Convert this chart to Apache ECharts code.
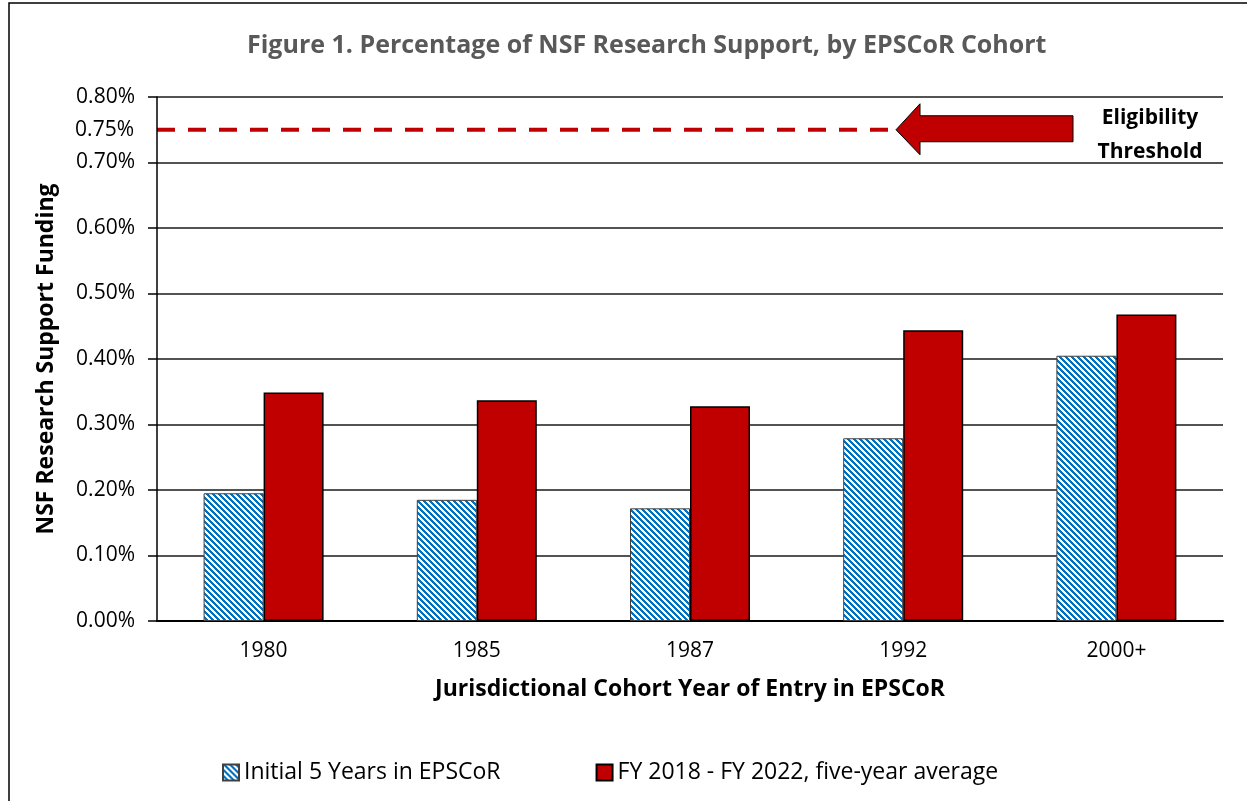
<!DOCTYPE html>
<html>
<head>
<meta charset="utf-8">
<script src="https://cdn.jsdelivr.net/npm/echarts@6/dist/echarts.min.js"></script>
<style>
    html, body { margin: 0; padding: 0; background: #fff; }
    #container { width: 1247px; height: 801px; }
</style>
</head>
<body>
<div id="container"></div>
<script type="text/javascript">
    // values in percent of NSF research support
    var cohorts = ['1980', '1985', '1987', '1992', '2000+'];
    var initialFive = [0.195, 0.185, 0.172, 0.279, 0.405];
    var recentAvg = [0.349, 0.337, 0.328, 0.444, 0.468];
    var seriesNames = ['Initial 5 Years in EPSCoR', 'FY 2018 - FY 2022, five-year average'];
    var threshold = 0.75;

    var font = '"Open Sans", sans-serif';

    // blue diagonal hatch like the excel pattern fill
    function hatch() {
        var c = document.createElement('canvas');
        c.width = 6; c.height = 6;
        var ctx = c.getContext('2d');
        ctx.fillStyle = '#fff';
        ctx.fillRect(0, 0, 6, 6);
        ctx.fillStyle = '#0070C0';
        for (var y = 0; y < 6; y++) {
            for (var x = 0; x < 6; x++) {
                if (((x - y) % 6 + 6) % 6 < 3) ctx.fillRect(x, y, 1, 1);
            }
        }
        return c;
    }

    function pct(v) { return v.toFixed(2) + '%'; }

    var dom = document.getElementById('container');
    var myChart = echarts.init(dom);

    var option = {
        animation: false,
        title: {
            text: 'Figure 1. Percentage of NSF Research Support, by EPSCoR Cohort',
            left: 242,
            top: 28,
            textStyle: { fontFamily: font, fontSize: 25, fontWeight: 'bold', color: '#595959' }
        },
        legend: {
            left: 217,
            top: 756,
            itemWidth: 16,
            itemHeight: 16,
            itemGap: 95,
            icon: 'rect',
            data: seriesNames,
            textStyle: { fontFamily: font, fontSize: 23, color: '#000' }
        },
        grid: { left: 157, right: 24, top: 97, bottom: 180 },
        xAxis: {
            type: 'category',
            data: cohorts,
            name: 'Jurisdictional Cohort Year of Entry in EPSCoR',
            nameLocation: 'middle',
            nameGap: 57,
            nameTextStyle: { fontFamily: font, fontSize: 23, fontWeight: 'bold', color: '#000' },
            axisTick: { show: false },
            axisLine: { lineStyle: { color: '#000', width: 2 } },
            axisLabel: { fontFamily: font, fontSize: 21, color: '#000', margin: 20 }
        },
        yAxis: {
            type: 'value',
            min: 0,
            max: 0.8,
            interval: 0.1,
            name: 'NSF Research Support Funding',
            nameLocation: 'middle',
            nameGap: 99,
            nameTextStyle: { fontFamily: font, fontSize: 23, fontWeight: 'bold', color: '#000' },
            axisLine: { show: true, lineStyle: { color: '#000', width: 1.5 } },
            axisTick: { show: true, length: 9, lineStyle: { color: '#000', width: 1.5 } },
            splitLine: { lineStyle: { color: '#1a1a1a', width: 1.5 } },
            axisLabel: {
                fontFamily: font, fontSize: 21, color: '#000', margin: 22,
                formatter: function (v) { return pct(v); }
            }
        },
        series: [
            {
                name: seriesNames[0],
                type: 'bar',
                barWidth: 60,
                barGap: 0,
                data: initialFive,
                itemStyle: {
                    color: { image: hatch(), repeat: 'repeat' },
                    borderColor: '#404040',
                    borderWidth: 1
                }
            },
            {
                name: seriesNames[1],
                type: 'bar',
                barWidth: 60,
                data: recentAvg,
                itemStyle: { color: '#C00000', borderColor: '#000', borderWidth: 1.5 }
            }
        ]
    };
    myChart.setOption(option, true);

    // threshold line, arrow and labels placed on the value axis scale
    var ty = myChart.convertToPixel({ yAxisIndex: 0 }, threshold);
    var x0 = myChart.convertToPixel({ xAxisIndex: 0 }, cohorts[0]) - 106.6;
    myChart.setOption({
        graphic: [
            {
                type: 'rect',
                shape: { x: 9, y: 3, width: 1260, height: 820 },
                style: { fill: 'none', stroke: '#000', lineWidth: 1.5 },
                silent: true
            },
            {
                type: 'line',
                shape: { x1: x0, y1: ty, x2: 893, y2: ty },
                style: { stroke: '#C00000', lineWidth: 4, lineDash: [18, 13] }
            },
            {
                type: 'polygon',
                shape: {
                    points: [[896, ty], [920, ty - 26], [920, ty - 14], [1073, ty - 14],
                             [1073, ty + 12], [920, ty + 12], [920, ty + 25]]
                },
                style: { fill: '#C00000', stroke: '#000', lineWidth: 1 }
            },
            {
                type: 'text',
                x: x0 - 23,
                y: ty,
                style: {
                    text: pct(threshold), fontFamily: font, fontSize: 21, fill: '#000',
                    align: 'right', verticalAlign: 'middle'
                }
            },
            {
                type: 'text',
                x: 1150,
                y: ty + 5,
                style: {
                    text: 'Eligibility\nThreshold', fontFamily: font, fontSize: 21, fontWeight: 'bold',
                    fill: '#000', align: 'center', verticalAlign: 'middle', lineHeight: 34
                }
            }
        ]
    });
</script>
</body>
</html>
